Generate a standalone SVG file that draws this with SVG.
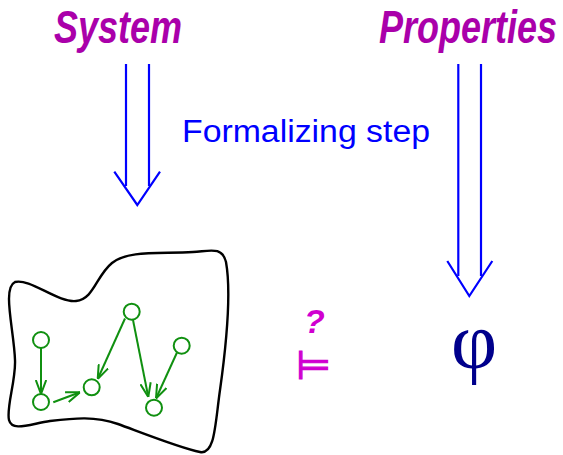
<svg xmlns="http://www.w3.org/2000/svg" width="563" height="455" viewBox="0 0 563 455">
<style>
.title{font-family:"Liberation Sans",Arial,sans-serif;font-weight:bold;font-style:italic;font-size:36px;fill:#aa00aa}
.lbl{font-family:"Liberation Sans",Arial,sans-serif;font-size:31px;fill:#0000ff}
.arr{fill:none;stroke:#0000ff;stroke-width:2.2}
.node circle{fill:#ffffff;stroke:#109010;stroke-width:2}
.edge{stroke:#109010;stroke-width:2;fill:none}
</style>
<defs>
<marker id="ah" viewBox="0 0 14 12" refX="14" refY="6" markerWidth="14" markerHeight="12" markerUnits="userSpaceOnUse" orient="auto">
<path d="M0,0.8 L14,6 L0,11.2" fill="none" stroke="#109010" stroke-width="2"/>
</marker>
</defs>
<g id="system" transform="translate(54,43) scale(1,1.28)"><text class="title" x="0" y="0">System</text></g>
<g id="properties" transform="translate(379,43) scale(1,1.28)"><text class="title" x="0" y="0">Properties</text></g>
<text id="formalizing" class="lbl" x="182" y="142" textLength="248" lengthAdjust="spacingAndGlyphs">Formalizing step</text>
<g id="arrow-left" class="arr">
<line x1="126" y1="64" x2="126" y2="186"/>
<line x1="149" y1="64" x2="149" y2="186"/>
<polyline points="114.3,171.7 137.3,205 160,171.7"/>
</g>
<g id="arrow-right" class="arr">
<line x1="458.3" y1="64" x2="458.3" y2="276"/>
<line x1="481" y1="64" x2="481" y2="276"/>
<polyline points="447.3,261 469.3,296 492.3,261"/>
</g>
<g id="system-blob">
<path d="M15,282 C30,278 58,303 76,301 C94,299 96,276 112,263 C128,250 160,254 193,252 C210,251 222,246 226,262 C231,290 227,340 220,390 C215,425 215,455 200,452 C180,448 140,432 118,424 C95,416 75,418 50,421 C30,424 12,432 9,420 C6,408 16,380 15,360 C14,330 2,288 15,282 Z" fill="none" stroke="#000000" stroke-width="2.4"/>
</g>
<g id="connectors">
<line class="edge" x1="41" y1="348" x2="41" y2="394" marker-end="url(#ah)"/>
<line class="edge" x1="53.3" y1="402.3" x2="80" y2="392.3" marker-end="url(#ah)"/>
<line class="edge" x1="125" y1="318.5" x2="97.7" y2="379" marker-end="url(#ah)"/>
<line class="edge" x1="133" y1="320" x2="148.3" y2="397" marker-end="url(#ah)"/>
<line class="edge" x1="177" y1="352.5" x2="156" y2="398.5" marker-end="url(#ah)"/>
</g>
<g id="n1" class="node"><circle cx="41" cy="340" r="8"/></g>
<g id="n2" class="node"><circle cx="41" cy="402" r="8"/></g>
<g id="n3" class="node"><circle cx="91.7" cy="387.3" r="8"/></g>
<g id="n4" class="node"><circle cx="131.7" cy="311.7" r="8"/></g>
<g id="n5" class="node"><circle cx="181.7" cy="345.7" r="8"/></g>
<g id="n6" class="node"><circle cx="154" cy="407.7" r="8"/></g>
<text id="question" x="304" y="333" style="font-family:'Liberation Sans',Arial,sans-serif;font-weight:bold;font-style:italic;font-size:34px;fill:#d000d0">?</text>
<text id="models" x="296" y="379" style="font-family:'DejaVu Sans',sans-serif;font-size:40px;fill:#d000d0;stroke:#d000d0;stroke-width:1.2">⊨</text>
<text id="phi" x="451" y="368" style="font-family:'Liberation Serif','Times New Roman',serif;font-size:80px;fill:#00008c">φ</text>
</svg>
